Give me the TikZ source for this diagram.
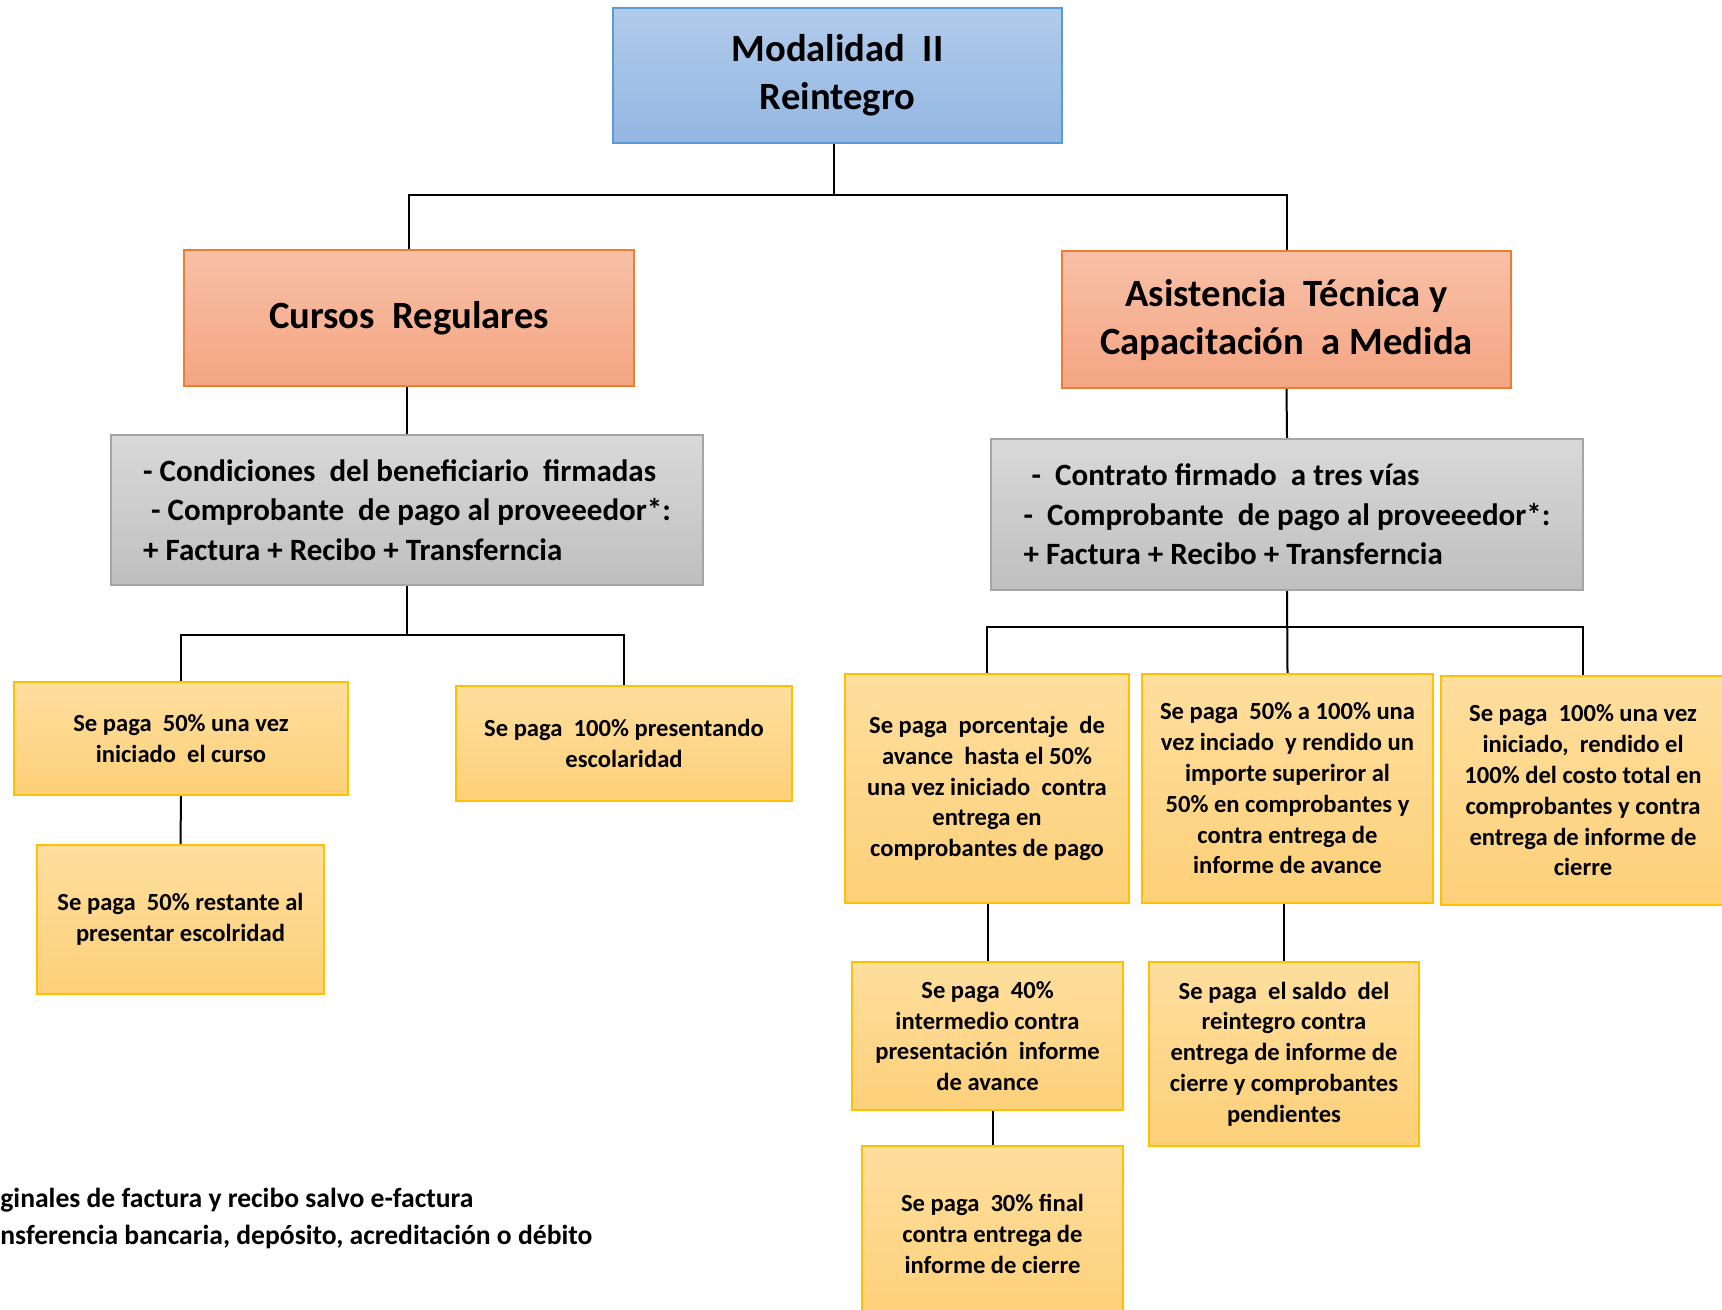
\documentclass[tikz,border=0pt]{standalone}
\usepackage{fontspec}
\setmainfont{Carlito}
\definecolor{azulA}{HTML}{B1CBEA}
\definecolor{azulB}{HTML}{93B7E3}
\definecolor{azulL}{HTML}{5B9BD5}
\definecolor{naranjaA}{HTML}{F8C0A7}
\definecolor{naranjaB}{HTML}{F4A583}
\definecolor{naranjaL}{HTML}{ED7D31}
\definecolor{grisA}{HTML}{D9D9D9}
\definecolor{grisB}{HTML}{BFBFBF}
\definecolor{grisL}{HTML}{A5A5A5}
\definecolor{amarA}{HTML}{FEDE9E}
\definecolor{amarB}{HTML}{FDD079}
\definecolor{amarL}{HTML}{FFC000}

\begin{document}
\begin{tikzpicture}[x=0.5pt,y=-0.5pt,
    caja/.style={draw, line width=1.2pt, inner sep=0pt, align=center},
    modo/.style={caja, draw=azulL, top color=azulA, bottom color=azulB,
      font=\fontsize{19.3}{24}\selectfont\bfseries},
    tipo/.style={caja, draw=naranjaL, top color=naranjaA, bottom color=naranjaB,
      font=\fontsize{19.3}{24}\selectfont\bfseries},
    requisito/.style={caja, draw=grisL, top color=grisA, bottom color=grisB, align=left,
      font=\fontsize{15.5}{19.75}\selectfont\bfseries},
    pago/.style={caja, draw=amarL, top color=amarA, bottom color=amarB,
      font=\fontsize{12.3}{15.4}\selectfont\bfseries},
    linea/.style={line width=1pt}]
    \useasboundingbox (0,0) rectangle (1722,1310);

    % nivel 1 y 2
    \node[modo, minimum width=224.5pt, minimum height=67.5pt] (mod) at (837.5,75.5) {Modalidad\ \ II\\Reintegro};
    \node[tipo, minimum width=225pt, minimum height=68pt] (cursos) at (409,318) {Cursos\ \ Regulares};
    \node[tipo, minimum width=224.5pt, minimum height=68.5pt] (asist) at (1286.5,319.5) {Asistencia\ \ Técnica y\\Capacitación\ \ a Medida};

    % requisitos
    \node[requisito, minimum width=296pt, minimum height=75pt] (reqcur) at (407,510)
      {- Condiciones\ \ del beneficiario\ \ firmadas\\
       \hspace{4pt}- Comprobante\ \ de pago al proveeedor*:\\
       + Factura + Recibo + Transferncia};
    \node[requisito, minimum width=296pt, minimum height=75.5pt] (reqasi) at (1287,514.5)
      {\hspace{4pt}-\ \ Contrato\ firmado\ \ a tres vías\\
       -\ \ Comprobante\ \ de pago\ al proveeedor*:\\
       + Factura + Recibo + Transferncia};

    % pagos cursos
    \node[pago, minimum width=167pt, minimum height=56.5pt] (pago1) at (181,738.5) {Se paga\ \ 50\% una vez\\iniciado\ \ el curso};
    \node[pago, minimum width=143.5pt, minimum height=74.5pt] (pago2) at (180.5,919.5) {Se paga\ \ 50\% restante al\\presentar escolridad};
    \node[pago, minimum width=168pt, minimum height=57.5pt] (pago3) at (624,743.5) {Se paga\ \ 100\% presentando\\escolaridad};

    % pagos asistencia
    \node[pago, minimum width=142pt, minimum height=114.5pt] (pago4) at (987,788.5)
      {Se paga\ \ porcentaje\ \ de\\avance\ \ hasta el 50\%\\una vez iniciado\ \ contra\\entrega en\\comprobantes de pago};
    \node[pago, minimum width=145.5pt, minimum height=114.5pt] (pago5) at (1287.5,788.5)
      {Se paga\ \ 50\% a 100\% una\\vez inciado\ \ y rendido un\\importe superiror al\\50\% en comprobantes y\\contra entrega de\\informe de avance};
    \node[pago, minimum width=142pt, minimum height=114.5pt] (pago6) at (1583,790.5)
      {Se paga\ \ 100\% una vez\\iniciado,\ \ rendido el\\100\% del costo total en\\comprobantes y contra\\entrega de informe de\\cierre};
    \node[pago, minimum width=135.5pt, minimum height=74pt] (pago7) at (987.5,1036)
      {Se paga\ \ 40\%\\intermedio contra\\presentación\ \ informe\\de avance};
    \node[pago, minimum width=130.5pt, minimum height=88pt] (pago8) at (992.5,1234)
      {Se paga\ \ 30\% final\\contra entrega de\\informe de cierre};
    \node[pago, minimum width=135pt, minimum height=92pt] (pago9) at (1284,1054)
      {Se paga\ \ el saldo\ \ del\\reintegro contra\\entrega de informe de\\cierre y comprobantes\\pendientes};

    % notas
    \node[anchor=west, align=left, inner sep=0pt, font=\fontsize{13.8}{18.5}\selectfont\bfseries] (notas) at (0,1218)
      {ginales de factura y recibo salvo e-factura\\nsferencia bancaria, depósito, acreditación o débito};

    % conectores
    \coordinate (bus1) at (834,195);
    \coordinate (bus2) at (407,635);
    \coordinate (bus3) at (1287,627);
    \draw[linea] (bus1 |- mod.south) -- (bus1);
    \draw[linea] (cursos.north) |- (bus1) -| (asist.north);
    \draw[linea] (reqcur.north) -- (reqcur.north |- cursos.south);
    \draw[linea] (asist.south) -- (reqasi.north);
    \draw[linea] (reqcur.south) -- (bus2);
    \draw[linea] (pago1.north) |- (bus2) -| (pago3.north);
    \draw[linea] (pago1.south) -- (pago2.north);
    \draw[linea] (reqasi.south) -- (pago5.north);
    \draw[linea] (pago4.north) |- (bus3) -| (pago6.north);
    \draw[linea] (pago7.north) -- (pago7.north |- pago4.south);
    \draw[linea] (pago8.north) -- (pago8.north |- pago7.south);
    \draw[linea] (pago9.north) -- (pago9.north |- pago5.south);
  \end{tikzpicture}
\end{document}
